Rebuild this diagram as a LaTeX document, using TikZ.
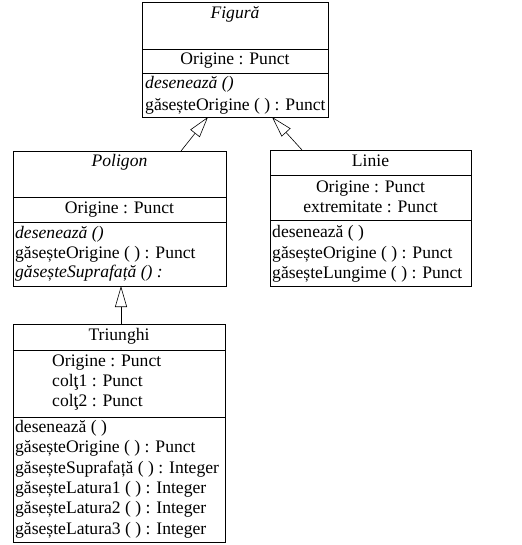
\documentclass[tikz,border=0pt]{standalone}
\usepackage{fontspec}
\setmainfont{Liberation Serif}
\usetikzlibrary{arrows.meta}
\begin{document}
\begin{tikzpicture}[x=1pt,y=-1pt,
  comp/.style={draw,line width=0.8pt,anchor=north west,inner sep=0pt,outer sep=0pt},
  txt/.style={inner sep=0pt,anchor=base west,font=\fontsize{17.6}{20}\selectfont},
  ctxt/.style={inner sep=0pt,anchor=base,font=\fontsize{17.6}{20}\selectfont},
  inh/.style={draw,line width=0.6pt,-{Triangle[open,length=21pt,width=12pt,fill=white]}}]
\useasboundingbox (0,0) rectangle (521,545);
% Figura
\node[comp,minimum width=186pt,minimum height=47pt] (figN) at (142,2) {};
\node[comp,minimum width=186pt,minimum height=24pt] (figA) at (142,49) {};
\node[comp,minimum width=186pt,minimum height=44pt] (figO) at (142,73) {};
\node[ctxt] (t1) at (235,19) {\itshape Figură};
\node[ctxt] (t2) at (235,65) {Origine : Punct};
\node[txt] (t3) at (145,89) {\itshape desenează ()};
\node[txt] (t4) at (145,111) {găseșteOrigine ( ) : Punct};
% Poligon
\node[comp,minimum width=213pt,minimum height=46pt] (polN) at (13,151) {};
\node[comp,minimum width=213pt,minimum height=25pt] (polA) at (13,197) {};
\node[comp,minimum width=213pt,minimum height=64pt] (polO) at (13,222) {};
\node[ctxt] (p1) at (119.5,167) {\itshape Poligon};
\node[ctxt] (p2) at (119.5,213) {Origine : Punct};
\node[txt] (p3) at (15,238) {\itshape desenează ()};
\node[txt] (p4) at (15,258) {găseșteOrigine ( ) : Punct};
\node[txt] (p5) at (15,277) {\itshape găseșteSuprafață () :};
% Linie
\node[comp,minimum width=201pt,minimum height=25pt] (linN) at (270,150) {};
\node[comp,minimum width=201pt,minimum height=45pt] (linA) at (270,175) {};
\node[comp,minimum width=201pt,minimum height=66pt] (linO) at (270,220) {};
\node[ctxt] (l1) at (370.5,167) {Linie};
\node[ctxt] (l2) at (370.5,193) {Origine : Punct};
\node[ctxt] (l3) at (370.5,212) {extremitate : Punct};
\node[txt] (l4) at (272,237) {desenează ( )};
\node[txt] (l5) at (272,258) {găseșteOrigine ( ) : Punct};
\node[txt] (l6) at (272,278) {găseșteLungime ( ) : Punct};
% Triunghi
\node[comp,minimum width=212pt,minimum height=26pt] (triN) at (13,324) {};
\node[comp,minimum width=212pt,minimum height=67pt] (triA) at (13,350) {};
\node[comp,minimum width=212pt,minimum height=125pt] (triO) at (13,417) {};
\node[ctxt] (r1) at (119,340) {Triunghi};
\node[txt] (r2) at (52,366) {Origine : Punct};
\node[txt] (r3) at (52,386) {colţ1 : Punct};
\node[txt] (r4) at (52,406) {colţ2 : Punct};
\node[txt] (r5) at (15,432) {desenează ( )};
\node[txt] (r6) at (15,452) {găseșteOrigine ( ) : Punct};
\node[txt] (r7) at (15,473) {găseșteSuprafață ( ) : Integer};
\node[txt] (r8) at (15,493) {găseșteLatura1 ( ) : Integer};
\node[txt] (r9) at (15,513) {găseșteLatura2 ( ) : Integer};
\node[txt] (r10) at (15,534) {găseșteLatura3 ( ) : Integer};
% connectors
\coordinate (a1) at ([xshift=61.5pt]polN.north);
\coordinate (a2) at ([xshift=-27pt]figO.south);
\coordinate (b1) at ([xshift=-68.5pt]linN.north);
\coordinate (b2) at ([xshift=37pt]figO.south);
\coordinate (c1) at ([xshift=2pt]triN.north);
\coordinate (c2) at ([xshift=1.5pt]polO.south);
\draw[inh] (a1) -- (a2);
\draw[inh] (b1) -- (b2);
\draw[inh] (c1) -- (c2);
\end{tikzpicture}
\end{document}
